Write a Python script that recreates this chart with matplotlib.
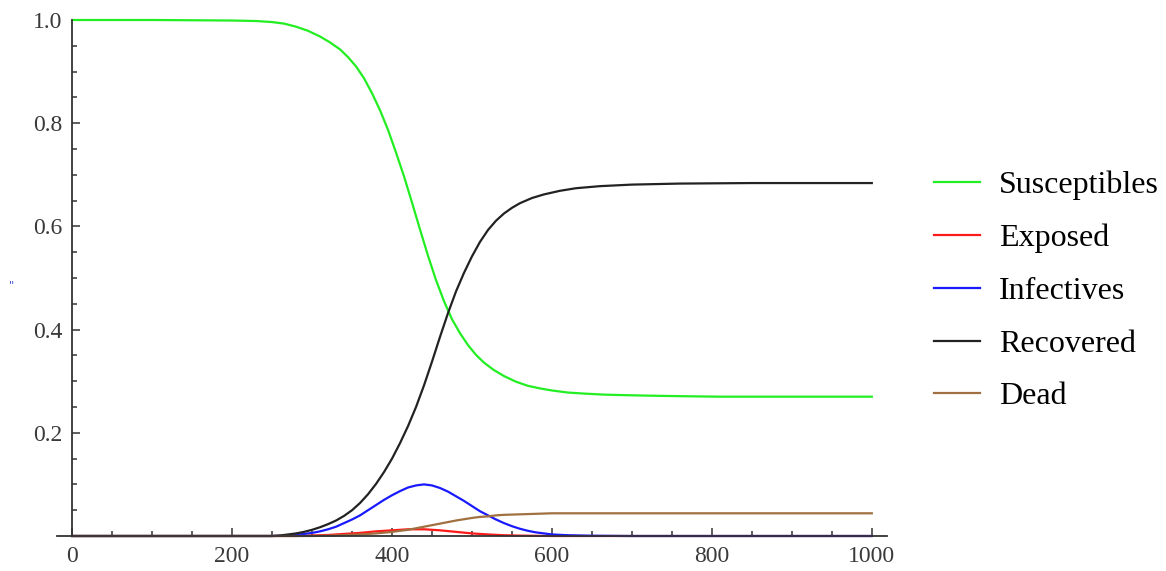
import numpy as np
import matplotlib
matplotlib.use("Agg")
import matplotlib.pyplot as plt
from matplotlib.ticker import MultipleLocator

# values (time, fraction of population)
sus_t = [0, 100, 200, 230, 250, 265, 280, 295, 310, 322, 335, 345, 355, 365, 375, 385, 395,
         405, 415, 425, 435, 445, 455, 465, 475, 485, 495, 505, 515, 527, 540, 555, 570,
         585, 600, 620, 640, 665, 690, 720, 760, 810, 1000]
sus_y = [1.0, 1.0, 0.999, 0.998, 0.996, 0.993, 0.987, 0.979, 0.968, 0.957, 0.943, 0.928,
         0.910, 0.887, 0.858, 0.825, 0.787, 0.743, 0.697, 0.646, 0.594, 0.543, 0.496, 0.455,
         0.420, 0.393, 0.370, 0.351, 0.336, 0.322, 0.310, 0.299, 0.291, 0.286, 0.282, 0.278,
         0.276, 0.274, 0.273, 0.272, 0.271, 0.270, 0.270]

exp_t = [0, 280, 300, 320, 340, 360, 380, 400, 420, 440, 460, 480, 500, 520, 540, 560, 600, 1000]
exp_y = [0, 0, 0.001, 0.002, 0.004, 0.006, 0.009, 0.011, 0.013, 0.013, 0.011, 0.008, 0.005,
         0.003, 0.0015, 0.0007, 0, 0]

inf_t = [0, 250, 260, 280, 290, 300, 310, 320, 330, 340, 350, 360, 370, 380, 390, 400, 410,
         420, 430, 440, 450, 460, 470, 480, 490, 500, 510, 520, 530, 540, 550, 560, 570,
         580, 590, 600, 620, 650, 700, 1000]
inf_y = [0, 0, 0.0005, 0.002, 0.004, 0.006, 0.009, 0.013, 0.018, 0.025, 0.032, 0.040, 0.050,
         0.060, 0.070, 0.079, 0.087, 0.094, 0.098, 0.100, 0.098, 0.093, 0.086, 0.077, 0.068,
         0.058, 0.048, 0.040, 0.032, 0.025, 0.019, 0.014, 0.010, 0.007, 0.005, 0.003, 0.0015,
         0.0005, 0, 0]

rec_t = [0, 250, 260, 270, 280, 290, 300, 310, 320, 330, 340, 350, 360, 370, 380, 390, 400,
         410, 420, 430, 440, 450, 460, 470, 480, 490, 500, 510, 520, 530, 540, 550, 560,
         575, 590, 610, 630, 660, 700, 760, 850, 1000]
rec_y = [0, 0, 0.001, 0.003, 0.005, 0.008, 0.012, 0.017, 0.023, 0.030, 0.039, 0.050, 0.064,
         0.081, 0.101, 0.124, 0.150, 0.180, 0.213, 0.250, 0.292, 0.338, 0.386, 0.432, 0.474,
         0.510, 0.542, 0.570, 0.593, 0.611, 0.625, 0.636, 0.645, 0.655, 0.662, 0.669, 0.674,
         0.678, 0.681, 0.683, 0.684, 0.684]

dead_t = [0, 300, 330, 360, 380, 400, 420, 440, 460, 480, 500, 510, 520, 530, 540, 550,
          560, 580, 600, 650, 1000]
dead_y = [0, 0, 0.001, 0.003, 0.005, 0.008, 0.012, 0.018, 0.024, 0.030, 0.035, 0.037, 0.038,
          0.040, 0.041, 0.0415, 0.042, 0.043, 0.044, 0.044, 0.044]

labels = ["Susceptibles", "Exposed", "Infectives", "Recovered", "Dead"]
colors = ["#22ee22", "#ff1a1a", "#1a1aff", "#222222", "#a07040"]

fig = plt.figure(figsize=(11.66, 5.71), dpi=100)
ax = fig.add_axes([57 / 1166, 35 / 571, 830 / 1166, 516 / 571])

series = [(sus_t, sus_y), (exp_t, exp_y), (inf_t, inf_y), (rec_t, rec_y), (dead_t, dead_y)]
lines = []
for (t, y), lab, col in zip(series, labels, colors):
    ln, = ax.plot(t, y, color=col, lw=1.6, label=lab, clip_on=False,
                  solid_joinstyle="round")
    lines.append(ln)

ax.set_xlim(-19, 1019)
ax.set_ylim(0, 1.0)

axis_col = "#333333"
for s in ["top", "right"]:
    ax.spines[s].set_visible(False)
ax.spines["left"].set_position(("data", 0))
for s in ["left", "bottom"]:
    ax.spines[s].set_color(axis_col)
    ax.spines[s].set_linewidth(1.3)

ax.set_xticks([0, 200, 400, 600, 800, 1000])
ax.set_yticks([0.2, 0.4, 0.6, 0.8, 1.0])
ax.xaxis.set_minor_locator(MultipleLocator(50))
ax.yaxis.set_minor_locator(MultipleLocator(0.05))
ax.tick_params(which="both", direction="in", color=axis_col, width=1.1)
ax.tick_params(which="major", length=6, labelsize=17, labelcolor="#3a3a3a", pad=7)
ax.tick_params(which="minor", length=3.5)
for lab in ax.get_xticklabels() + ax.get_yticklabels():
    lab.set_fontfamily("Liberation Serif")

fig.text(11 / 1166, 1 - 285 / 571, '"', color="#3344cc", fontsize=8, ha="center", va="center")

fig.legend(handles=lines, loc="upper left", bbox_to_anchor=(934 / 1166, 1 - 171 / 571),
           frameon=False, prop={"family": "Liberation Serif", "size": 23},
           handlelength=1.44, handletextpad=0.6, labelspacing=0.73, borderpad=0,
           borderaxespad=0)

fig.savefig("out.png", dpi=100)
